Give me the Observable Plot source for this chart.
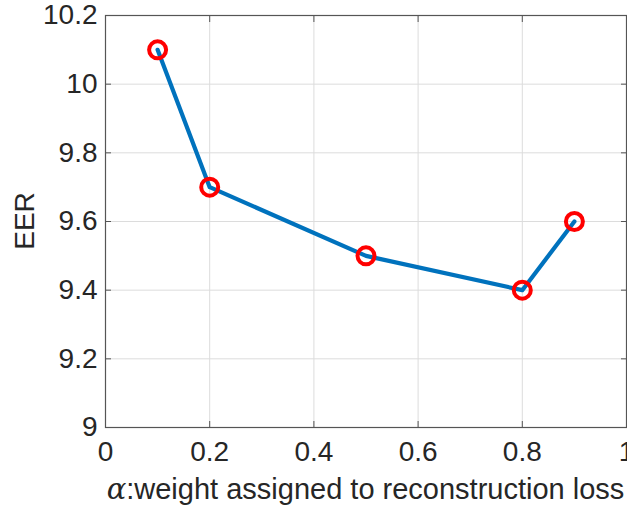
<!DOCTYPE html>
<html>
<head>
<meta charset="utf-8">
<script src="https://cdn.jsdelivr.net/npm/d3@7"></script>
<script src="https://cdn.jsdelivr.net/npm/@observablehq/plot@0.6"></script>
<style>
  html, body { margin: 0; padding: 0; background: #fff; }
  #chart svg { display: block; }
</style>
</head>
<body>
<div id="chart"></div>
<script>
const alphaValues = [0.1, 0.2, 0.5, 0.8, 0.9];
const eerValues = [10.1, 9.7, 9.5, 9.4, 9.6];
const xTicks = [0, 0.2, 0.4, 0.6, 0.8, 1];
const yTicks = [9, 9.2, 9.4, 9.6, 9.8, 10, 10.2];
const xTickLabels = ["0", "0.2", "0.4", "0.6", "0.8", "1"];
const yTickLabels = ["9", "9.2", "9.4", "9.6", "9.8", "10", "10.2"];
const xLabelSymbol = "α";
const xLabelText = ":weight assigned to reconstruction loss";
const yLabelText = "EER";

const data = alphaValues.map((a, i) => ({alpha: a, eer: eerValues[i]}));
const font = "'Liberation Sans', Arial, Helvetica, sans-serif";
const axisColor = "#262626";

const W = 627, H = 506;
const mL = 105, mR = 1, mT = 15, mB = 79;

const plot = Plot.plot({
  width: W,
  height: H,
  marginLeft: mL,
  marginRight: mR,
  marginTop: mT,
  marginBottom: mB,
  style: {fontFamily: font, fontSize: "28px", color: axisColor, background: "#fff", overflow: "visible"},
  x: {domain: [0, 1]},
  y: {domain: [9, 10.2]},
  marks: [
    Plot.gridX(xTicks, {stroke: "#dcdcdc", strokeOpacity: 1, strokeWidth: 1}),
    Plot.gridY(yTicks, {stroke: "#dcdcdc", strokeOpacity: 1, strokeWidth: 1}),
    Plot.axisX(xTicks, {anchor: "bottom", tickSize: -6, tickPadding: 20, tickFormat: (d, i) => xTickLabels[i], label: null, stroke: "#555", fill: axisColor, fontSize: 28}),
    Plot.axisX(xTicks, {anchor: "top", tickSize: -6, tickFormat: null, text: null, label: null, stroke: "#555"}),
    Plot.axisY(yTicks, {anchor: "left", tickSize: -6, tickPadding: 14, tickFormat: (d, i) => yTickLabels[i], label: null, stroke: "#555", fill: axisColor, fontSize: 28}),
    Plot.axisY(yTicks, {anchor: "right", tickSize: -6, tickFormat: null, text: null, label: null, stroke: "#555"}),
    Plot.frame({stroke: "#555", strokeWidth: 1.2}),
    Plot.line(data, {x: "alpha", y: "eer", stroke: "#0072BD", strokeWidth: 4.2}),
    Plot.dot(data, {x: "alpha", y: "eer", r: 8.5, stroke: "#ff0000", strokeWidth: 4, fill: "none"})
  ]
});
document.getElementById("chart").appendChild(plot);

const svg = d3.select(plot);
// y label
svg.append("text")
  .attr("transform", `translate(24, ${mT + (H - mT - mB) / 2}) rotate(-90)`)
  .attr("text-anchor", "middle")
  .attr("dominant-baseline", "central")
  .attr("font-family", font)
  .attr("font-size", 28)
  .attr("fill", axisColor)
  .text(yLabelText);
// x label
const xl = svg.append("text")
  .attr("x", mL + (W - mL - mR) / 2)
  .attr("y", 499)
  .attr("text-anchor", "middle")
  .attr("font-family", font)
  .attr("font-size", 29)
  .attr("fill", axisColor);
xl.append("tspan").attr("font-family", "'DejaVu Serif', 'Liberation Serif', serif").attr("font-style", "italic").text(xLabelSymbol);
xl.append("tspan").text(xLabelText);
</script>
</body>
</html>
